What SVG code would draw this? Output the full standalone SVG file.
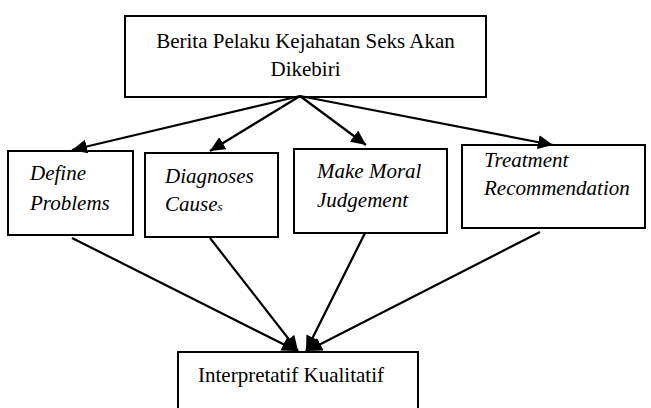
<svg xmlns="http://www.w3.org/2000/svg" width="651" height="408" viewBox="0 0 651 408">
  <style>
    .box { fill: #ffffff; stroke: #000000; stroke-width: 2; }
    .edge { stroke: #000000; stroke-width: 2.2; fill: none; marker-end: url(#arrow); }
  </style>
  <defs>
    <marker id="arrow" markerUnits="userSpaceOnUse" markerWidth="16" markerHeight="14" refX="15" refY="7" orient="auto">
      <path d="M0,0 L15,7 L0,14 Z" fill="#000000"/>
    </marker>
  </defs>
  <rect width="651" height="408" fill="#ffffff"/>

  <g id="top" font-family="Liberation Serif" font-size="21" fill="#000000">
    <rect class="box" x="125" y="16" width="361" height="81"/>
    <text x="305.5" y="48" text-anchor="middle">Berita Pelaku Kejahatan Seks Akan</text>
    <text x="305.5" y="76" text-anchor="middle">Dikebiri</text>
  </g>

  <g id="define" font-family="Liberation Serif" font-size="21" font-style="italic" fill="#000000">
    <rect class="box" x="8" y="151" width="125" height="84"/>
    <text x="30" y="180">Define</text>
    <text x="30" y="210">Problems</text>
  </g>

  <g id="diagnoses" font-family="Liberation Serif" font-size="21" font-style="italic" fill="#000000">
    <rect class="box" x="145" y="153" width="133" height="84"/>
    <text x="165" y="183">Diagnoses</text>
    <text x="165" y="211">Cause<tspan font-size="13">s</tspan></text>
  </g>

  <g id="moral" font-family="Liberation Serif" font-size="21" font-style="italic" fill="#000000">
    <rect class="box" x="294" y="149" width="153" height="84"/>
    <text x="317" y="178">Make Moral</text>
    <text x="317" y="207">Judgement</text>
  </g>

  <g id="treatment" font-family="Liberation Serif" font-size="21" font-style="italic" fill="#000000">
    <rect class="box" x="462" y="145" width="183" height="83"/>
    <text x="484" y="167">Treatment</text>
    <text x="484" y="195">Recommendation</text>
  </g>

  <g id="bottom" font-family="Liberation Serif" font-size="21" fill="#000000">
    <rect class="box" x="178" y="352" width="240" height="70"/>
    <text x="198" y="382">Interpretatif Kualitatif</text>
  </g>

  <g id="connectors">
    <line class="edge" x1="300" y1="96" x2="72" y2="150"/>
    <line class="edge" x1="300" y1="96" x2="210" y2="151"/>
    <line class="edge" x1="300" y1="96" x2="366" y2="145"/>
    <line class="edge" x1="300" y1="96" x2="553" y2="145"/>
    <line class="edge" x1="72" y1="238" x2="297" y2="351"/>
    <line class="edge" x1="210" y1="238" x2="298" y2="351"/>
    <line class="edge" x1="365" y1="233" x2="306" y2="351"/>
    <line class="edge" x1="540" y1="232" x2="307" y2="351"/>
  </g>
</svg>
